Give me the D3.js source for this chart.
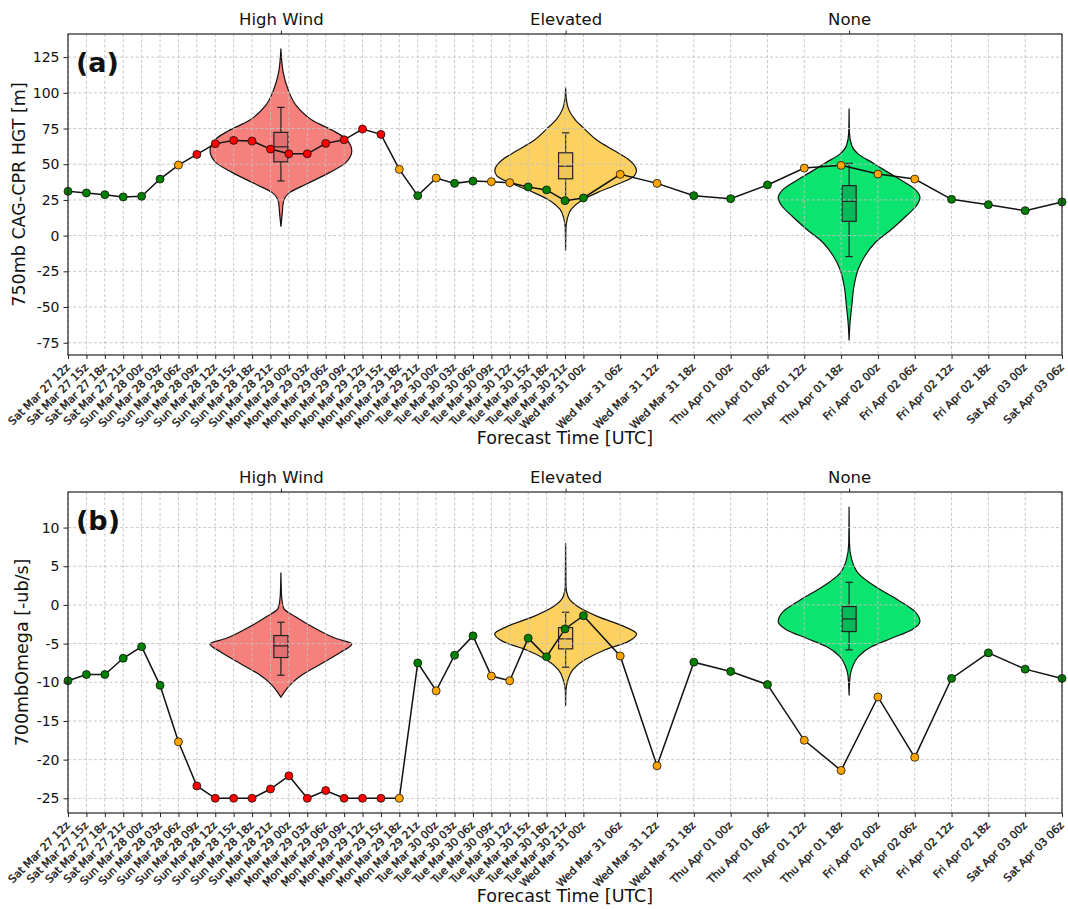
<!DOCTYPE html>
<html>
<head>
<meta charset="utf-8">
<script src="https://cdn.jsdelivr.net/npm/d3@7"></script>
<style>
  body { margin: 0; background: #fff; }
  text { font-family: "DejaVu Sans", sans-serif; fill: #111; }
</style>
</head>
<body>
<svg id="chart" width="1068" height="909"></svg>
<script>
// ---- forecast times (hours after Sat Mar 27 12z) and their tick labels ----
const tickLabels = [
  "Sat Mar 27 12z","Sat Mar 27 15z","Sat Mar 27 18z","Sat Mar 27 21z",
  "Sun Mar 28 00z","Sun Mar 28 03z","Sun Mar 28 06z","Sun Mar 28 09z",
  "Sun Mar 28 12z","Sun Mar 28 15z","Sun Mar 28 18z","Sun Mar 28 21z",
  "Mon Mar 29 00z","Mon Mar 29 03z","Mon Mar 29 06z","Mon Mar 29 09z",
  "Mon Mar 29 12z","Mon Mar 29 15z","Mon Mar 29 18z","Mon Mar 29 21z",
  "Tue Mar 30 00z","Tue Mar 30 03z","Tue Mar 30 06z","Tue Mar 30 09z",
  "Tue Mar 30 12z","Tue Mar 30 15z","Tue Mar 30 18z","Tue Mar 30 21z",
  "Wed Mar 31 00z","Wed Mar 31 06z","Wed Mar 31 12z","Wed Mar 31 18z",
  "Thu Apr 01 00z","Thu Apr 01 06z","Thu Apr 01 12z","Thu Apr 01 18z",
  "Fri Apr 02 00z","Fri Apr 02 06z","Fri Apr 02 12z","Fri Apr 02 18z",
  "Sat Apr 03 00z","Sat Apr 03 06z"
];
const forecastHours = [
  0,3,6,9,12,15,18,21,24,27,30,33,36,39,42,45,48,51,54,57,60,63,66,69,72,75,78,81,84,
  90,96,102,108,114,120,126,132,138,144,150,156,162
];
// risk class for each forecast time: R = high wind, O = elevated, G = none
const riskClass = [
  "G","G","G","G","G","G","O","R","R","R","R","R","R","R","R","R","R","R","O","G","O",
  "G","G","O","O","G","G","G","G","O","O","G","G","G","O","O","O","O","G","G","G","G"
];

// ---- series ----
const hgt750 = [
  31.0,29.9,28.7,27.1,27.5,39.6,49.4,56.9,64.4,66.7,66.2,60.6,57.3,57.3,64.6,67.1,74.6,70.9,
  46.4,28.0,40.3,36.6,38.2,37.8,37.1,34.1,32.0,24.5,26.4,
  42.9,36.6,28.0,25.9,35.5,47.3,49.2,43.1,39.6,25.4,21.7,17.5,23.6
];
const omega700 = [
  -9.8,-9.0,-9.0,-6.9,-5.4,-10.4,-17.7,-23.4,-25.0,-25.0,-25.0,-23.8,-22.1,-25.0,-24.0,-25.0,-25.0,-25.0,
  -25.0,-7.5,-11.1,-6.5,-4.0,-9.2,-9.8,-4.3,-6.7,-3.1,-1.4,
  -6.6,-20.8,-7.4,-8.6,-10.3,-17.5,-21.4,-11.9,-19.7,-9.5,-6.2,-8.3,-9.5
];

// ---- climatology violins: one per risk class ----
const violinNames = ["High Wind", "Elevated", "None"];
const violinHours = [34.7, 81.1, 127.3];

// outlines as [value, relative half width]
const hgtViolinHighWind = [[131,0],[114.2,0.033],[102.5,0.10],[90.9,0.22],[80.4,0.455],[73.4,0.74],
  [67.6,0.92],[59.4,1.0],[51.3,0.92],[44.3,0.69],[36.1,0.36],[30.3,0.127],[23.3,0.033],[16.3,0.02],[6.3,0]];
const hgtViolinElevated = [[103.8,0],[95.6,0.01],[88.6,0.042],[81.6,0.127],[74.6,0.27],[66.4,0.455],
  [59.4,0.69],[53.6,0.88],[45.4,1.0],[41.9,0.97],[36.1,0.74],[30.3,0.455],[24.5,0.22],[18.6,0.08],
  [11.6,0.023],[4.7,0.005],[-10.5,0]];
const hgtViolinNone = [[89.1,0],[72.3,0.005],[62.9,0.038],[57.1,0.13],[51.3,0.32],[44.3,0.55],[37.2,0.79],
  [31.4,0.95],[26.7,1.0],[20.9,0.95],[13.9,0.81],[4.5,0.60],[-4.8,0.37],[-14.1,0.225],[-23.4,0.13],
  [-35.1,0.07],[-49.1,0.038],[-60.7,0.014],[-73.4,0]];

const omegaViolinHighWind = [[4.18,0],[1.08,0.01],[-0.43,0.038],[-1.51,0.20],[-3.01,0.48],[-4.31,0.77],
  [-5.04,1.0],[-6.03,0.86],[-7.54,0.58],[-9.04,0.30],[-10.33,0.13],[-11.4,0.038],[-11.93,0]];
const omegaViolinElevated = [[7.97,0],[2.37,0.005],[1.08,0.033],[-0.21,0.17],[-1.51,0.455],[-2.8,0.83],
  [-3.75,1.0],[-4.74,0.88],[-5.82,0.55],[-7.1,0.27],[-8.4,0.10],[-9.7,0.033],[-11.0,0.005],[-13.05,0]];
const omegaViolinNone = [[12.7,0],[7.97,0.005],[5.82,0.038],[4.09,0.13],[2.37,0.37],[0.65,0.69],
  [-0.86,0.93],[-2.15,1.0],[-3.23,0.88],[-4.31,0.60],[-5.38,0.32],[-6.68,0.13],[-7.97,0.05],
  [-9.26,0.014],[-11.7,0]];

// box plots: [lower whisker, q1, median, q3, upper whisker]
const hgtBoxes = [[38.3,51.7,62.2,72.3,89.8],[24.0,39.8,48.6,58.0,72.0],[-14.7,10.0,24.0,35.0,50.6]];
const omegaBoxes = [[-9.09,-6.8,-5.3,-3.96,-2.24],[-8.05,-5.68,-4.39,-2.93,-0.95],[-5.81,-3.44,-1.81,-0.21,2.93]];

const hgtTicks = [-75,-50,-25,0,25,50,75,100,125];
const omegaTicks = [-25,-20,-15,-10,-5,0,5,10];

// ---- styling ----
const pointColor = { R: "#ff0000", O: "#ffa500", G: "#008000" };
const violinFill = ["#f6807c", "#fcd160", "#0be46e"];
const boxFill = ["#e27070", "#f3c650", "#07b85a"];
const violinHalfWidthHours = 11.55;
const boxHalfWidthHours = 1.15;
const capHalfWidthHours = 0.6;

const svg = d3.select("#chart");
const left = 68, right = 1062;
const x = d3.scaleLinear().domain([0, 162]).range([left, right]);

function drawPanel(opt) {
  const g = svg.append("g");
  const y = d3.scaleLinear().domain(opt.domain).range([opt.bottom, opt.top]);

  // violins
  opt.violins.forEach((pts, i) => {
    const c = violinHours[i];
    const sorted = pts.slice().sort((a, b) => b[0] - a[0]);
    const area = d3.area()
      .y(d => y(d[0]))
      .x0(d => x(c - d[1] * violinHalfWidthHours))
      .x1(d => x(c + d[1] * violinHalfWidthHours))
      .curve(d3.curveMonotoneY);
    g.append("path").attr("d", area(sorted))
      .attr("fill", violinFill[i]).attr("stroke", "#111").attr("stroke-width", 1.2);
  });

  // box plots inside the violins
  opt.boxes.forEach((b, i) => {
    const c = violinHours[i];
    const bg = g.append("g").attr("stroke", "#222").attr("stroke-width", 1.2).attr("fill", "none");
    bg.append("line").attr("x1", x(c)).attr("x2", x(c)).attr("y1", y(b[3])).attr("y2", y(b[4]));
    bg.append("line").attr("x1", x(c)).attr("x2", x(c)).attr("y1", y(b[1])).attr("y2", y(b[0]));
    [b[0], b[4]].forEach(v => bg.append("line")
      .attr("x1", x(c - capHalfWidthHours)).attr("x2", x(c + capHalfWidthHours))
      .attr("y1", y(v)).attr("y2", y(v)));
    bg.append("rect")
      .attr("x", x(c - boxHalfWidthHours)).attr("width", x(c + boxHalfWidthHours) - x(c - boxHalfWidthHours))
      .attr("y", y(b[3])).attr("height", y(b[1]) - y(b[3]))
      .attr("fill", boxFill[i]);
    bg.append("line").attr("x1", x(c - boxHalfWidthHours)).attr("x2", x(c + boxHalfWidthHours))
      .attr("y1", y(b[2])).attr("y2", y(b[2]));
  });

  // dashed grid
  const grid = g.append("g").attr("stroke", "#c2c2c2").attr("stroke-width", 0.9)
    .attr("stroke-dasharray", "3,2.2");
  forecastHours.forEach(h => grid.append("line")
    .attr("x1", x(h)).attr("x2", x(h)).attr("y1", opt.top).attr("y2", opt.bottom));
  opt.ticks.forEach(t => grid.append("line")
    .attr("x1", left).attr("x2", right).attr("y1", y(t)).attr("y2", y(t)));

  // series line + markers
  const pts = forecastHours.map((h, i) => ({ h, v: opt.values[i], c: riskClass[i] }));
  g.append("path")
    .attr("d", d3.line().x(d => x(d.h)).y(d => y(d.v))(pts))
    .attr("fill", "none").attr("stroke", "#111").attr("stroke-width", 1.5);
  g.selectAll(null).data(pts).enter().append("circle")
    .attr("cx", d => x(d.h)).attr("cy", d => y(d.v)).attr("r", 4)
    .attr("fill", d => pointColor[d.c]).attr("stroke", "#111").attr("stroke-width", 0.8);

  // frame
  g.append("rect").attr("x", left).attr("y", opt.top)
    .attr("width", right - left).attr("height", opt.bottom - opt.top)
    .attr("fill", "none").attr("stroke", "#222").attr("stroke-width", 1.2);

  // bottom axis
  const xAxis = d3.axisBottom(x).tickValues(forecastHours).tickSize(4).tickFormat("");
  const xa = g.append("g").attr("transform", `translate(0,${opt.bottom})`).call(xAxis);
  xa.select(".domain").remove();
  xa.selectAll(".tick line").attr("stroke", "#222");
  forecastHours.forEach((h, i) => {
    g.append("text")
      .attr("transform", `translate(${x(h) + 2.5},${opt.bottom + 13}) rotate(-45)`)
      .attr("text-anchor", "end").attr("font-size", 10.8)
      .attr("fill", "#222").attr("stroke", "#222").attr("stroke-width", 0.35)
      .text(tickLabels[i]);
  });

  // left axis
  const yAxis = d3.axisLeft(y).tickValues(opt.ticks).tickSize(4.5).tickPadding(4).tickFormat(d3.format("d"));
  const ya = g.append("g").attr("transform", `translate(${left},0)`).call(yAxis);
  ya.select(".domain").remove();
  ya.selectAll(".tick line").attr("stroke", "#222");
  ya.selectAll(".tick text").attr("font-size", 14).attr("font-family", "DejaVu Sans").attr("fill", "#111")
    .text(d => d < 0 ? "-" + Math.abs(d) : d);

  // top axis: risk class labels
  const topAxis = d3.axisTop(x).tickValues(violinHours).tickSize(3.5).tickPadding(6)
    .tickFormat((d, i) => violinNames[i]);
  const ta = g.append("g").attr("transform", `translate(0,${opt.top})`).call(topAxis);
  ta.select(".domain").remove();
  ta.selectAll(".tick line").attr("stroke", "#222");
  ta.selectAll(".tick text").attr("font-size", 16.5).attr("font-family", "DejaVu Sans").attr("fill", "#111");

  // axis titles
  g.append("text").attr("x", (left + right) / 2).attr("y", opt.bottom + 89)
    .attr("text-anchor", "middle").attr("font-size", 17.5).text("Forecast Time [UTC]");
  g.append("text")
    .attr("transform", `translate(${opt.ylabelX},${(opt.top + opt.bottom) / 2}) rotate(-90)`)
    .attr("text-anchor", "middle").attr("font-size", 17.5).text(opt.ylabel);

  // panel letter
  g.append("text").attr("x", 76).attr("y", opt.top + 38)
    .attr("font-family", "Liberation Sans, Arial, sans-serif").attr("font-weight", "bold")
    .attr("font-size", 27).text(opt.letter);
}

drawPanel({
  top: 34, bottom: 355, domain: [-83.6, 141.2], ticks: hgtTicks,
  values: hgt750, violins: [hgtViolinHighWind, hgtViolinElevated, hgtViolinNone],
  boxes: hgtBoxes, ylabel: "750mb CAG-CPR HGT [m]", ylabelX: 25, letter: "(a)"
});
drawPanel({
  top: 492, bottom: 813, domain: [-26.9, 14.6], ticks: omegaTicks,
  values: omega700, violins: [omegaViolinHighWind, omegaViolinElevated, omegaViolinNone],
  boxes: omegaBoxes, ylabel: "700mbOmega [-ub/s]", ylabelX: 28, letter: "(b)"
});
</script>
</body>
</html>
